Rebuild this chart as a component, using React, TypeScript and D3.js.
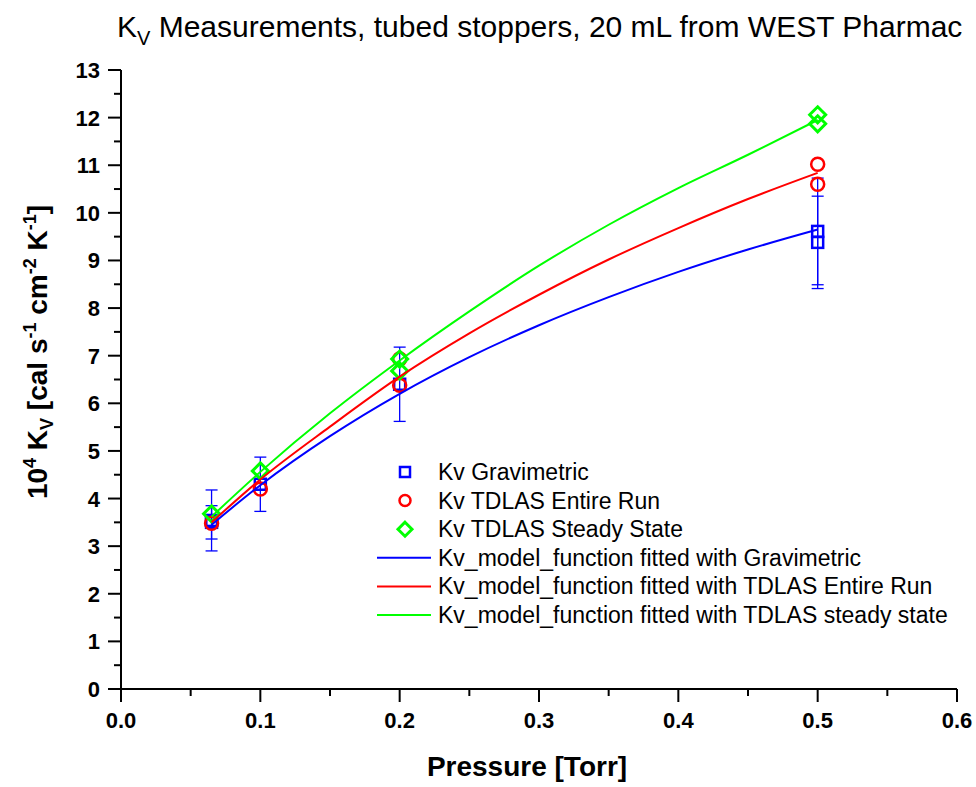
import React from "react";
import * as d3 from "d3";

// Measured points
const gravP = [0.065, 0.065, 0.1, 0.2, 0.5, 0.5];
const gravKv = [3.5, 3.54, 4.3, 6.4, 9.61, 9.38];
const gravErr = [0.35, 0.64, 0.57, 0.78, 1.12, 0.97];

const entireP = [0.065, 0.1, 0.2, 0.2, 0.5, 0.5];
const entireKv = [3.48, 4.2, 6.93, 6.38, 11.02, 10.6];

const steadyP = [0.065, 0.1, 0.2, 0.2, 0.5, 0.5];
const steadyKv = [3.68, 4.58, 6.93, 6.68, 12.06, 11.87];

// Fitted curves
const curveP = [0.065, 0.1, 0.15, 0.2, 0.25, 0.3, 0.35, 0.4, 0.45, 0.5];
const fitGrav = [3.45, 4.28, 5.31, 6.2, 6.97, 7.64, 8.23, 8.76, 9.23, 9.65];
const fitEntire = [3.5, 4.4, 5.51, 6.56, 7.47, 8.28, 9.02, 9.68, 10.29, 10.84];
const fitSteady = [3.62, 4.56, 5.79, 6.9, 7.93, 8.89, 9.75, 10.52, 11.22, 11.95];

const xTicks = [0, 0.1, 0.2, 0.3, 0.4, 0.5, 0.6];
const yTicks = d3.range(0, 14);

const legendLabels = [
  "Kv Gravimetric",
  "Kv TDLAS Entire Run",
  "Kv TDLAS Steady State",
  "Kv_model_function fitted with Gravimetric",
  "Kv_model_function fitted with TDLAS Entire Run",
  "Kv_model_function fitted with TDLAS steady state",
];

const BLUE = "#0000ff";
const RED = "#ff0000";
const GREEN = "#00ff00";
const FONT = "'Liberation Sans', Arial, sans-serif";

export default function App() {
  const W = 976, H = 787;
  const x = d3.scaleLinear().domain([0, 0.6]).range([121, 957]);
  const y = d3.scaleLinear().domain([0, 13]).range([689, 70]);
  const line = d3
    .line<number>()
    .x((_, i) => x(curveP[i]))
    .y((d) => y(d))
    .curve(d3.curveMonotoneX);

  const xMinor = d3.range(0, 13).map((i) => i * 0.05);
  const yMinor = d3.range(0, 27).map((i) => i * 0.5);

  const sq = 5.5, cr = 6.5, dm = 8;
  const legX = 405, legTx = 438, legY0 = 472, legDy = 28.6;

  return (
    <svg
      width={W}
      height={H}
      style={{ position: "absolute", left: 0, top: 0, background: "#fff" }}
      fontFamily={FONT}
    >
      <rect x={0} y={0} width={W} height={H} fill="#fff" />
      {/* title (the reference shows it cut at "Pharmac") */}
      <text x={117} y={37} fontSize={30} fill="#000">
        K<tspan fontSize={20} dy={8}>V</tspan>
        <tspan dy={-8}> Measurements, tubed stoppers, 20 mL from WEST Pharmac</tspan>
      </text>

      {/* axes */}
      <line x1={x(0)} x2={x(0.6)} y1={y(0)} y2={y(0)} stroke="#000" strokeWidth={2} />
      <line x1={x(0)} x2={x(0)} y1={y(0) + 1} y2={y(13)} stroke="#000" strokeWidth={2} />
      {xMinor.map((v, i) => (
        <line key={"xm" + i} x1={x(v)} x2={x(v)} y1={y(0)} y2={y(0) + (i % 2 === 0 ? 13 : 7)} stroke="#000" strokeWidth={2} />
      ))}
      {yMinor.map((v, i) => (
        <line key={"ym" + i} x1={x(0)} x2={x(0) - (i % 2 === 0 ? 13 : 7)} y1={y(v)} y2={y(v)} stroke="#000" strokeWidth={2} />
      ))}
      {xTicks.map((v) => (
        <text key={"xt" + v} x={x(v)} y={728} fontSize={22} fontWeight="bold" textAnchor="middle">
          {v.toFixed(1)}
        </text>
      ))}
      {yTicks.map((v) => (
        <text key={"yt" + v} x={100} y={y(v) + 8} fontSize={22} fontWeight="bold" textAnchor="end">
          {v}
        </text>
      ))}
      <text x={527} y={776} fontSize={28} fontWeight="bold" textAnchor="middle">
        Pressure [Torr]
      </text>
      <text transform="translate(47,352) rotate(-90)" fontSize={28} fontWeight="bold" textAnchor="middle">
        10<tspan fontSize={18} dy={-11}>4</tspan>
        <tspan dy={11}> K</tspan>
        <tspan fontSize={18} dy={6}>V</tspan>
        <tspan dy={-6}> [cal s</tspan>
        <tspan fontSize={18} dy={-11}>-1</tspan>
        <tspan dy={11}> cm</tspan>
        <tspan fontSize={18} dy={-11}>-2</tspan>
        <tspan dy={11}> K</tspan>
        <tspan fontSize={18} dy={-11}>-1</tspan>
        <tspan dy={11}>]</tspan>
      </text>

      {/* error bars */}
      {gravP.map((p, i) => {
        const cx = x(p);
        const t = y(gravKv[i] + gravErr[i]);
        const b = y(gravKv[i] - gravErr[i]);
        return (
          <g key={"eb" + i} stroke={BLUE} strokeWidth={1.3}>
            <line x1={cx} x2={cx} y1={t} y2={b} />
            <line x1={cx - 6} x2={cx + 6} y1={t} y2={t} />
            <line x1={cx - 6} x2={cx + 6} y1={b} y2={b} />
          </g>
        );
      })}
      {/* markers */}
      {gravP.map((p, i) => (
        <rect key={"sq" + i} x={x(p) - sq} y={y(gravKv[i]) - sq} width={sq * 2} height={sq * 2} fill="none" stroke={BLUE} strokeWidth={2.5} />
      ))}
      {entireP.map((p, i) => (
        <circle key={"ci" + i} cx={x(p)} cy={y(entireKv[i])} r={cr} fill="none" stroke={RED} strokeWidth={2.5} />
      ))}
      {steadyP.map((p, i) => {
        const cx = x(p), cy = y(steadyKv[i]);
        return (
          <path key={"dm" + i} d={`M${cx},${cy - dm}L${cx + dm},${cy}L${cx},${cy + dm}L${cx - dm},${cy}Z`} fill="none" stroke={GREEN} strokeWidth={3} />
        );
      })}
      {/* fitted curves */}
      <path d={line(fitGrav) || ""} fill="none" stroke={BLUE} strokeWidth={2} />
      <path d={line(fitEntire) || ""} fill="none" stroke={RED} strokeWidth={2} />
      <path d={line(fitSteady) || ""} fill="none" stroke={GREEN} strokeWidth={2} />

      {/* legend */}
      <rect x={legX - 5} y={legY0 - 5} width={10} height={10} fill="none" stroke={BLUE} strokeWidth={2.5} />
      <circle cx={legX} cy={legY0 + legDy} r={5.5} fill="none" stroke={RED} strokeWidth={2.5} />
      <path d={`M${legX},${legY0 + 2 * legDy - 7}L${legX + 7},${legY0 + 2 * legDy}L${legX},${legY0 + 2 * legDy + 7}L${legX - 7},${legY0 + 2 * legDy}Z`} fill="none" stroke={GREEN} strokeWidth={3} />
      {[BLUE, RED, GREEN].map((c, i) => (
        <line key={"ll" + i} x1={377} x2={431} y1={legY0 + (3 + i) * legDy} y2={legY0 + (3 + i) * legDy} stroke={c} strokeWidth={2} />
      ))}
      {legendLabels.map((l, i) => (
        <text key={"lt" + i} x={legTx} y={legY0 + i * legDy + 8} fontSize={23}>
          {l}
        </text>
      ))}
    </svg>
  );
}
